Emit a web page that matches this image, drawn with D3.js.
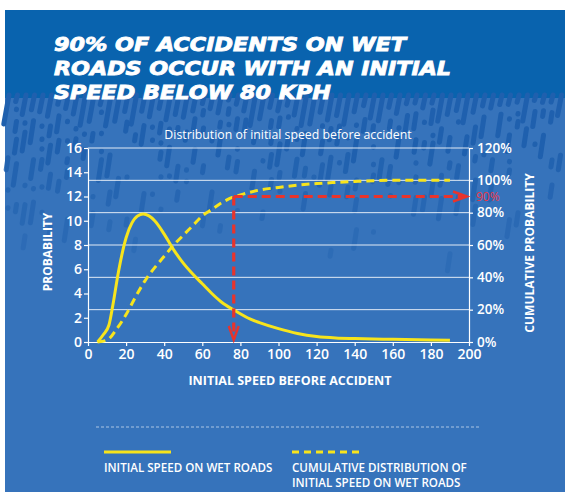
<!DOCTYPE html>
<html><head><meta charset="utf-8">
<script src="https://cdn.jsdelivr.net/npm/d3@7"></script>
<style>body{margin:0;background:#fff}svg{display:block}</style></head>
<body><svg id="c" width="565" height="493"></svg>
<script>
// ---------- data ----------
const titleLines = ["90% OF ACCIDENTS ON WET", "ROADS OCCUR WITH AN INITIAL", "SPEED BELOW 80 KPH"];
const subtitle = "Distribution of initial speed before accident";
const densitySpeed = [5, 8, 11, 13, 16, 20, 23, 26, 29, 32, 35, 40, 45, 50, 55, 60, 65, 70, 77, 85, 90, 100, 110, 120, 130, 140, 160, 180, 190];
const densityValue = [0, 0.6, 1.4, 3.0, 5.8, 8.6, 9.8, 10.4, 10.55, 10.4, 10.0, 8.9, 7.6, 6.5, 5.6, 4.8, 4.0, 3.3, 2.6, 1.9, 1.6, 1.1, 0.7, 0.45, 0.33, 0.28, 0.22, 0.17, 0.15];
const cumSpeed = [5, 10, 15, 20, 25, 30, 35, 40, 45, 50, 55, 60, 65, 70, 77, 80, 90, 100, 110, 120, 130, 140, 150, 160, 190];
const cumValue = [0, 1.2, 8, 17, 28, 38, 46, 53, 60, 66, 72, 78, 82, 86, 90, 91, 94, 95.6, 97, 98, 98.7, 99.3, 99.8, 100, 100];
const xTicks = [0, 20, 40, 60, 80, 100, 120, 140, 160, 180, 200];
const leftTicks = [0, 2, 4, 6, 8, 10, 12, 14, 16];
const rightTicks = [0, 20, 40, 60, 80, 100, 120];
const markerSpeed = [76.5];
const markerPct = [90];
const legendLabels = [["INITIAL SPEED ON WET ROADS"], ["CUMULATIVE DISTRIBUTION OF", "INITIAL SPEED ON WET ROADS"]];
const axisTitles = {x: "INITIAL SPEED BEFORE ACCIDENT", left: "PROBABILITY", right: "CUMULATIVE PROBABILITY"};

// ---------- layout ----------
const svg = d3.select("#c");
const FONT = "'Open Sans', 'Noto Sans', sans-serif";
const YELLOW = "#f7e41c", RED = "#e8342c", BG = "#3673bb", BAND = "#0963ae", DASH = "#1f60ae";
const L = 88, R = 469, T = 148, B = 342;

const x = d3.scaleLinear().domain([0, 200]).range([L, R]);
const yL = d3.scaleLinear().domain([0, 16]).range([B, T]);
const yR = d3.scaleLinear().domain([0, 120]).range([B, T]);

// background
svg.append("rect").attr("x", 5).attr("y", 10).attr("width", 560).attr("height", 482).attr("fill", BG);
svg.append("rect").attr("x", 5).attr("y", 10).attr("width", 560).attr("height", 88).attr("fill", BAND);

// decorative rain pattern (deterministic)
const rain = svg.append("g").attr("stroke", DASH).attr("stroke-linecap", "round").attr("stroke-width", 5);
function h(n) { const s = Math.sin(n * 12.9898) * 43758.5453; return s - Math.floor(s); }
let k = 0;
for (let cx = 8; cx < 565; cx += 8.5) {
  k++;
  const l0 = 4 + h(k) * 26;
  rain.append("line").attr("x1", cx + 1).attr("y1", 95).attr("x2", cx - l0 * 0.15).attr("y2", 96 + l0);
  let yy = 96 + l0 + 7 + h(k + 100) * 8;
  let j = 0;
  while (yy < 255) {
    j++;
    const p = 1 - (yy - 100) / 165;
    const len = h(k * 7 + j * 13) < 0.35 ? 0.5 : 4 + h(k * 3 + j) * 18;
    if (h(k * 5 + j * 31) < p) {
      rain.append("line").attr("x1", cx).attr("y1", yy).attr("x2", cx - len * 0.15).attr("y2", yy + len)
        .attr("opacity", Math.max(0.35, Math.min(1, p + 0.2)));
    }
    yy += len + 6 + h(k * 11 + j) * 14;
  }
}

// title
const tLen = [352, 397, 277];
svg.append("g").selectAll("text").data(titleLines).join("text")
  .attr("x", 54).attr("y", (d, i) => 51 + i * 24)
  .attr("fill", "#fff").attr("stroke", "#fff").attr("stroke-width", 0.9)
  .attr("font-family", "'DejaVu Sans', sans-serif")
  .attr("font-weight", "bold").attr("font-style", "italic").attr("font-size", 20)
  .attr("textLength", (d, i) => tLen[i]).attr("lengthAdjust", "spacingAndGlyphs")
  .text(d => d);

// subtitle
svg.append("text").attr("x", 288).attr("y", 139).attr("text-anchor", "middle")
  .attr("fill", "#fff").attr("font-family", FONT).attr("font-size", 12.3).text(subtitle);

// gridlines
svg.append("g").selectAll("line").data(rightTicks.filter(d => d > 0)).join("line")
  .attr("x1", L).attr("x2", R).attr("y1", d => yR(d)).attr("y2", d => yR(d))
  .attr("stroke", "#fff").attr("stroke-opacity", 0.85).attr("stroke-width", 1);

// axes
function styleAxis(g, size) {
  g.select(".domain").attr("stroke", "#fff").attr("stroke-width", 1.2);
  g.selectAll(".tick line").attr("stroke", "#fff").attr("stroke-width", 1.2);
  g.selectAll(".tick text").attr("fill", "#fff").attr("font-family", FONT)
    .attr("font-weight", 600).attr("font-size", size);
}
svg.append("g").attr("transform", `translate(0,${B})`)
  .call(d3.axisBottom(x).tickValues(xTicks).tickSize(4).tickSizeOuter(0).tickPadding(3))
  .call(g => styleAxis(g, 14));
svg.append("g").attr("transform", `translate(${L},0)`)
  .call(d3.axisLeft(yL).tickValues(leftTicks).tickSize(4).tickSizeOuter(0).tickPadding(2))
  .call(g => styleAxis(g, 14));
svg.append("g").attr("transform", `translate(${R},0)`)
  .call(d3.axisRight(yR).tickValues(rightTicks).tickSize(4).tickSizeOuter(0).tickPadding(4)
    .tickFormat(d => d + "%"))
  .call(g => styleAxis(g, 13.5));

// axis titles
svg.append("text").attr("x", 290).attr("y", 385).attr("text-anchor", "middle")
  .attr("fill", "#fff").attr("font-family", FONT).attr("font-weight", 700).attr("font-size", 12.5)
  .text(axisTitles.x);
svg.append("text").attr("transform", "translate(52,252) rotate(-90)").attr("text-anchor", "middle")
  .attr("fill", "#fff").attr("font-family", FONT).attr("font-weight", 700).attr("font-size", 12)
  .text(axisTitles.left);
svg.append("text").attr("transform", "translate(534,253) rotate(-90)").attr("text-anchor", "middle")
  .attr("fill", "#fff").attr("font-family", FONT).attr("font-weight", 700).attr("font-size", 12)
  .text(axisTitles.right);

// curves
const dens = densitySpeed.map((s, i) => [s, densityValue[i]]);
const cum = cumSpeed.map((s, i) => [s, cumValue[i]]);
svg.append("path").datum(cum)
  .attr("d", d3.line().x(d => x(d[0])).y(d => yR(d[1])).curve(d3.curveMonotoneX))
  .attr("fill", "none").attr("stroke", YELLOW).attr("stroke-width", 3).attr("stroke-dasharray", "8,5");
svg.append("path").datum(dens)
  .attr("d", d3.line().x(d => x(d[0])).y(d => yL(d[1])).curve(d3.curveMonotoneX))
  .attr("fill", "none").attr("stroke", YELLOW).attr("stroke-width", 3);

// 90% marker
const mx = x(markerSpeed[0]), my = yR(markerPct[0]);
const red = svg.append("g").attr("stroke", RED).attr("stroke-width", 3.2).attr("fill", "none");
red.append("line").attr("x1", mx).attr("y1", my).attr("x2", mx).attr("y2", B - 3).attr("stroke-dasharray", "9,5");
red.append("line").attr("x1", mx).attr("y1", my).attr("x2", R - 3).attr("y2", my).attr("stroke-dasharray", "9,5");
red.append("path").attr("d", `M${mx - 5},${B - 16}L${mx},${B - 2}L${mx + 5},${B - 16}`).attr("stroke-width", 2.4);
red.append("path").attr("d", `M${R - 16},${my - 5}L${R - 2},${my}L${R - 16},${my + 5}`).attr("stroke-width", 2.4);
svg.append("text").attr("x", R + 7).attr("y", my + 4.5).attr("fill", "#e8384a")
  .attr("font-family", FONT).attr("font-weight", 400).attr("font-size", 12).text(markerPct[0] + "%");

// legend separator
svg.append("line").attr("x1", 96).attr("x2", 480).attr("y1", 427).attr("y2", 427)
  .attr("stroke", "#fff").attr("stroke-opacity", 0.75).attr("stroke-width", 0.8).attr("stroke-dasharray", "3,2");

// legend
const legX = [104, 292];
const leg = svg.append("g");
leg.append("line").attr("x1", legX[0]).attr("x2", legX[0] + 67).attr("y1", 452).attr("y2", 452)
  .attr("stroke", YELLOW).attr("stroke-width", 3);
leg.append("line").attr("x1", legX[1]).attr("x2", legX[1] + 67).attr("y1", 452).attr("y2", 452)
  .attr("stroke", YELLOW).attr("stroke-width", 3).attr("stroke-dasharray", "7,5");
legendLabels.forEach((lines, i) => {
  lines.forEach((t, j) => {
    leg.append("text").attr("x", legX[i]).attr("y", 471.5 + j * 15).attr("fill", "#fff")
      .attr("font-family", FONT).attr("font-weight", 600).attr("font-size", 11.6).text(t);
  });
});
</script></body></html>
